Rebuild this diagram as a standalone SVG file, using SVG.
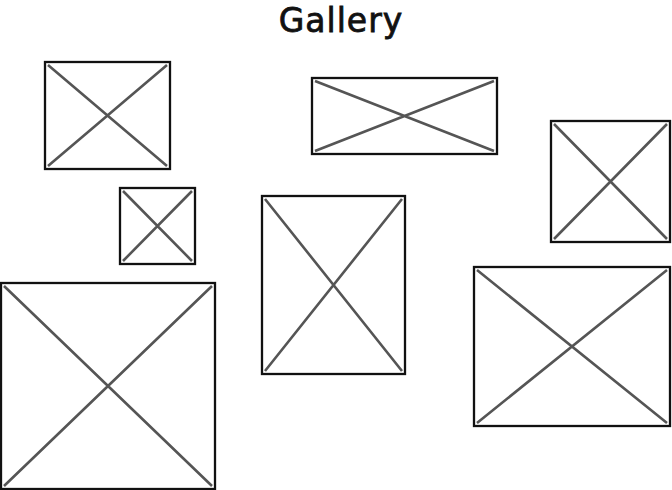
<svg xmlns="http://www.w3.org/2000/svg" width="672" height="490" viewBox="0 0 672 490">
<style>
.frame{fill:#fff;stroke:#111;stroke-width:2.3}
.x{stroke:#555;stroke-width:2.6;fill:none}
.title{font-family:"DejaVu Sans",sans-serif;font-size:33px;fill:#111;stroke:#111;stroke-width:0.8}
</style>
<rect width="672" height="490" fill="#fff"/>
<text class="title" x="341" y="32" text-anchor="middle" letter-spacing="1">Gallery</text>
<g id="img1"><rect class="frame" x="45" y="62" width="125" height="107"/><path class="x" d="M48 65L167 166M167 65L48 166"/></g>
<g id="img2"><rect class="frame" x="120" y="188" width="75" height="76"/><path class="x" d="M123 191L192 261M192 191L123 261"/></g>
<g id="img3"><rect class="frame" x="312" y="78" width="185" height="76"/><path class="x" d="M315 81L494 151M494 81L315 151"/></g>
<g id="img4"><rect class="frame" x="551" y="121" width="119" height="121"/><path class="x" d="M554 124L667 239M667 124L554 239"/></g>
<g id="img5"><rect class="frame" x="1" y="283" width="214" height="206"/><path class="x" d="M4 286L212 486M212 286L4 486"/></g>
<g id="img6"><rect class="frame" x="262" y="196" width="143" height="178"/><path class="x" d="M265 199L402 371M402 199L265 371"/></g>
<g id="img7"><rect class="frame" x="474" y="267" width="196" height="159"/><path class="x" d="M477 270L667 423M667 270L477 423"/></g>
<g id="connectors"></g>
</svg>
